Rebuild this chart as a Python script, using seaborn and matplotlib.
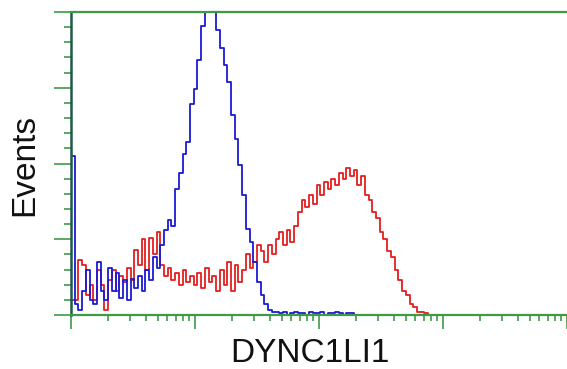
import matplotlib
matplotlib.use("Agg")
import matplotlib.pyplot as plt
import matplotlib.ticker as mticker
import seaborn as sns
import pandas as pd
import numpy as np

# flow histogram, channel bins 0.03 decade wide starting at 10^0
bin_width = 0.03
n_bins = 97

# isotype / negative control (blue)
control_counts = [
    105, 7, 3, 16, 30, 10, 7, 35, 16, 10,
    31, 16, 28, 11, 23, 10, 24, 18, 26, 16,
    30, 23, 38, 31, 46, 56, 63, 59, 83, 94,
    106, 114, 139, 149, 168, 191, 215, 215, 212, 188,
    176, 165, 154, 132, 116, 99, 79, 57, 48, 35,
    22, 13, 7, 3, 2, 2, 1, 2, 0, 1,
    2, 1, 1, 0, 2, 1, 1, 2, 0, 1,
    1, 2, 1, 0, 1, 1, 0,
]
# DYNC1LI1 stained (red)
stained_counts = [
    10, 10, 36, 33, 13, 20, 10, 30, 20, 3,
    23, 30, 16, 26, 22, 31, 23, 43, 33, 50,
    30, 51, 40, 55, 33, 26, 31, 23, 28, 20,
    30, 22, 26, 20, 28, 18, 31, 22, 26, 16,
    30, 20, 35, 16, 33, 22, 30, 40, 31, 35,
    46, 42, 35, 46, 40, 50, 55, 46, 56, 48,
    59, 68, 76, 71, 79, 73, 86, 79, 88, 83,
    90, 86, 94, 90, 97, 92, 96, 86, 92, 79,
    76, 68, 64, 55, 50, 42, 38, 30, 23, 16,
    13, 7, 5, 2, 2, 1, 0,
]

control_counts = control_counts + [0] * (n_bins - len(control_counts))
log_centers = (np.arange(n_bins) + 0.5) * bin_width
df = pd.DataFrame({
    "channel": 10 ** log_centers,
    "control": control_counts,
    "stained": stained_counts,
})

fig = plt.figure(figsize=(5.67, 3.69), dpi=100)
ax = fig.add_axes([71 / 567, 54 / 369, 496 / 567, 303 / 369])

sns.histplot(data=df, x="channel", weights="stained", bins=n_bins,
             binrange=(0, n_bins * bin_width), log_scale=True,
             element="step", fill=False, color="#e41e1e", linewidth=1.3, ax=ax)
sns.histplot(data=df, x="channel", weights="control", bins=n_bins,
             binrange=(0, n_bins * bin_width), log_scale=True,
             element="step", fill=False, color="#1a1ad8", linewidth=1.3, ax=ax)

ax.set_xlim(1, 1e4)
ax.set_ylim(0, 200)
ax.xaxis.set_major_locator(mticker.LogLocator(base=10, numticks=10))
ax.xaxis.set_minor_locator(mticker.LogLocator(base=10, subs=np.arange(2, 10), numticks=20))
ax.yaxis.set_major_locator(mticker.MultipleLocator(50))
ax.yaxis.set_minor_locator(mticker.MultipleLocator(10))
ax.xaxis.set_major_formatter(mticker.NullFormatter())
ax.xaxis.set_minor_formatter(mticker.NullFormatter())
ax.yaxis.set_major_formatter(mticker.NullFormatter())

green = "#3f9a45"
ax.tick_params(axis="x", which="major", length=10, width=1.2, color=green)
ax.tick_params(axis="x", which="minor", length=4.5, width=1.2, color=green)
ax.tick_params(axis="y", which="major", length=12, width=1.2, color=green)
ax.tick_params(axis="y", which="minor", length=5, width=1.2, color=green)

ax.spines["right"].set_visible(False)
for side in ["top", "bottom"]:
    ax.spines[side].set_color(green)
    ax.spines[side].set_linewidth(1.6)
ax.spines["left"].set_color("#1d5a48")
ax.spines["left"].set_linewidth(1.8)

font = ["Liberation Sans", "DejaVu Sans"]
ax.set_xlabel("DYNC1LI1", fontsize=24, family=font, color="#111111")
ax.set_ylabel("Events", fontsize=24, family=font, color="#111111")
ax.xaxis.set_label_coords((310 - 71) / 496, -23 / 303)
ax.yaxis.set_label_coords(-31 / 496, 150 / 303)

fig.savefig("out.png", dpi=100, facecolor="white")
